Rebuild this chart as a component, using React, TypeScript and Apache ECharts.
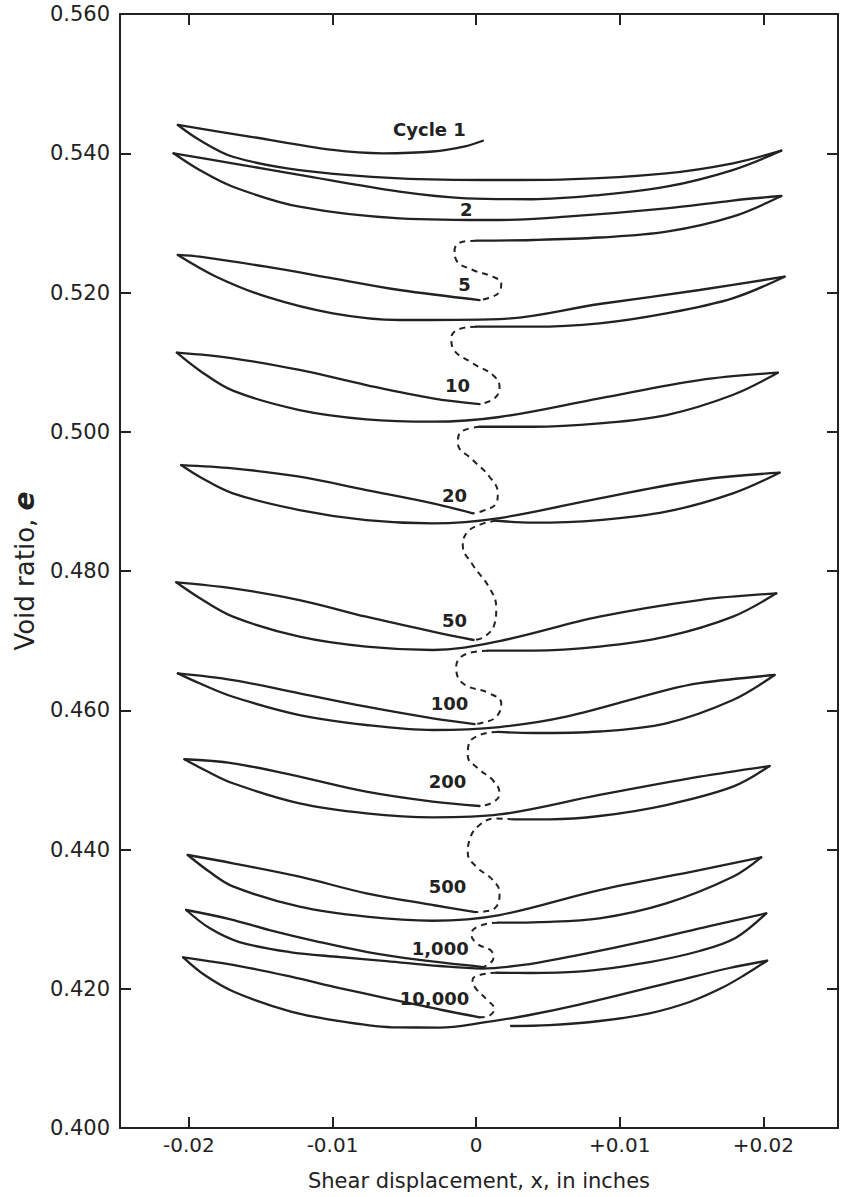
import React, { useEffect, useRef } from "react";
import * as echarts from "echarts";

type Pt = [number, number];

// ---- axes ----
const xMin = -0.0248;
const xMax = 0.0252;
const xTickValues = [-0.02, -0.01, 0, 0.01, 0.02];
const yMin = 0.4;
const yMax = 0.56;
const yInterval = 0.02;

// ---- cycle 1 & 2 (continuous) ----
const c1Out: Pt[] = [[0.00047, 0.5418], [-0.00069, 0.54104], [-0.00302, 0.54025], [-0.0065, 0.53999], [-0.00998, 0.54047], [-0.01578, 0.5424], [-0.02077, 0.54406]];
const c1Lower: Pt[] = [[-0.02077, 0.54406], [-0.01926, 0.5419], [-0.01694, 0.5395], [-0.0123, 0.53759], [-0.00533, 0.5364], [0.00163, 0.53616], [0.00627, 0.53626], [0.01324, 0.53712], [0.01788, 0.53856], [0.02125, 0.54037]];
const c1Return: Pt[] = [[0.02125, 0.54037], [0.01786, 0.53759], [0.01324, 0.53519], [0.00859, 0.534], [0.00393, 0.53339], [-0.00069, 0.53353], [-0.00533, 0.53448], [-0.0123, 0.53688], [-0.01696, 0.53856], [-0.02107, 0.53999]];
const c2Lower: Pt[] = [[-0.02107, 0.53999], [-0.01926, 0.53759], [-0.01694, 0.53519], [-0.0123, 0.53232], [-0.00533, 0.53066], [0.00163, 0.53041], [0.00627, 0.53089], [0.01324, 0.53209], [0.01786, 0.53321], [0.02125, 0.53386]];
const c2Return: Pt[] = [[0.02125, 0.53386], [0.01786, 0.53089], [0.01327, 0.52873], [0.00859, 0.5279], [0.00393, 0.52754], [0.00001, 0.52744]];

// ---- cycle 5 ----
const c5Out: Pt[] = [[0.00024, 0.51892], [-0.00533, 0.52036], [-0.00998, 0.52204], [-0.01462, 0.5237], [-0.01926, 0.52514], [-0.02077, 0.52539]];
const c5Lower: Pt[] = [[-0.02077, 0.52539], [-0.0181, 0.52227], [-0.01462, 0.5194], [-0.00998, 0.51701], [-0.00533, 0.51605], [0.00163, 0.51619], [0.00859, 0.51835], [0.01556, 0.52036], [0.02148, 0.52227]];
const c5Return: Pt[] = [[0.02148, 0.52227], [0.01786, 0.51917], [0.01324, 0.51701], [0.00859, 0.51558], [0.00393, 0.51509], [0.00001, 0.51509]];

// ---- cycle 10 ----
const c10Out: Pt[] = [[0.00024, 0.50398], [-0.00302, 0.5048], [-0.00765, 0.50671], [-0.0123, 0.50887], [-0.01694, 0.51055], [-0.02084, 0.51135]];
const c10Lower: Pt[] = [[-0.02084, 0.51135], [-0.01926, 0.5088], [-0.01694, 0.5059], [-0.0123, 0.50312], [-0.00765, 0.50179], [-0.00302, 0.50144], [0.00163, 0.50212], [0.00859, 0.5048], [0.01556, 0.50743], [0.02101, 0.50848]];
const c10Return: Pt[] = [[0.02101, 0.50848], [0.01786, 0.50528], [0.01326, 0.5024], [0.00859, 0.50121], [0.00393, 0.50072], [0.00024, 0.50072]];

// ---- cycle 20 ----
const c20Out: Pt[] = [[-0.00023, 0.48829], [-0.00302, 0.48972], [-0.00765, 0.49163], [-0.0123, 0.49354], [-0.01694, 0.49475], [-0.02054, 0.49522]];
const c20Lower: Pt[] = [[-0.02054, 0.49522], [-0.01926, 0.49354], [-0.01694, 0.49116], [-0.0123, 0.48876], [-0.00765, 0.48732], [-0.00302, 0.48685], [0.00163, 0.48761], [0.00859, 0.49044], [0.01556, 0.49307], [0.02113, 0.49412]];
const c20Return: Pt[] = [[0.02113, 0.49412], [0.01788, 0.49116], [0.01324, 0.48852], [0.00859, 0.48732], [0.00395, 0.48694], [0.0014, 0.48722]];

// ---- cycle 50 ----
const c50Out: Pt[] = [[-0.00018, 0.47009], [-0.00302, 0.47129], [-0.00765, 0.47343], [-0.0123, 0.47583], [-0.01694, 0.47751], [-0.02088, 0.47838]];
const c50Lower: Pt[] = [[-0.02088, 0.47838], [-0.01926, 0.47612], [-0.01694, 0.47344], [-0.0123, 0.47056], [-0.00765, 0.46913], [-0.00302, 0.46865], [0.00163, 0.46994], [0.00859, 0.47344], [0.01556, 0.47583], [0.0209, 0.47679]];
const c50Return: Pt[] = [[0.0209, 0.47679], [0.01788, 0.47344], [0.01324, 0.47056], [0.00859, 0.46913], [0.00395, 0.46855], [0.00081, 0.46855]];

// ---- cycle 100 ----
const c100Out: Pt[] = [[-0.00011, 0.45802], [-0.00302, 0.45884], [-0.00765, 0.46051], [-0.0123, 0.46243], [-0.01694, 0.46434], [-0.02077, 0.4653]];
const c100Lower: Pt[] = [[-0.02077, 0.4653], [-0.01926, 0.46387], [-0.01694, 0.46194], [-0.0123, 0.45931], [-0.00765, 0.45788], [-0.00302, 0.45716], [0.00163, 0.45759], [0.00627, 0.45907], [0.01324, 0.4629], [0.01556, 0.4639], [0.02078, 0.46506]];
const c100Return: Pt[] = [[0.02078, 0.46506], [0.01788, 0.46147], [0.01324, 0.45812], [0.00859, 0.45695], [0.00395, 0.45673], [0.00149, 0.45688]];

// ---- cycle 200 ----
const c200Out: Pt[] = [[0.00024, 0.44625], [-0.00302, 0.44687], [-0.00765, 0.4483], [-0.0123, 0.45046], [-0.01694, 0.45238], [-0.02031, 0.45296]];
const c200Lower: Pt[] = [[-0.02031, 0.45296], [-0.01891, 0.45142], [-0.01694, 0.44951], [-0.0123, 0.44663], [-0.00765, 0.4452], [-0.00302, 0.44462], [0.00163, 0.44503], [0.00859, 0.44783], [0.01556, 0.45046], [0.02043, 0.45199]];
const c200Return: Pt[] = [[0.02043, 0.45199], [0.01788, 0.44902], [0.01324, 0.44639], [0.00859, 0.44481], [0.00511, 0.44434], [0.0026, 0.44434]];

// ---- cycle 500 ----
const c500Out: Pt[] = [[-0.00004, 0.43102], [-0.00302, 0.43203], [-0.00765, 0.43371], [-0.0123, 0.43609], [-0.01694, 0.43802], [-0.02008, 0.43921]];
const c500Lower: Pt[] = [[-0.02008, 0.43921], [-0.01857, 0.4368], [-0.01694, 0.4347], [-0.0123, 0.43178], [-0.00765, 0.43035], [-0.00302, 0.42977], [0.00163, 0.43059], [0.00859, 0.43418], [0.01556, 0.43705], [0.01985, 0.43888]];
const c500Return: Pt[] = [[0.01985, 0.43888], [0.01788, 0.43609], [0.01324, 0.43227], [0.00859, 0.43012], [0.00442, 0.42958], [0.00151, 0.42949]];

// ---- cycle 1,000 ----
const c1000Out: Pt[] = [[0.00052, 0.42312], [-0.00394, 0.42414], [-0.00756, 0.42527], [-0.0109, 0.42671], [-0.01439, 0.42843], [-0.01717, 0.43001], [-0.02019, 0.43131]];
const c1000Lower: Pt[] = [[-0.02019, 0.43131], [-0.01857, 0.42872], [-0.01648, 0.42671], [-0.01299, 0.42527], [-0.00951, 0.42456], [-0.00624, 0.42398], [-0.00255, 0.42327], [0.00038, 0.42291], [0.00372, 0.42355], [0.0071, 0.42484], [0.01208, 0.427], [0.01625, 0.42901], [0.0202, 0.43083]];
const c1000Return: Pt[] = [[0.0202, 0.43083], [0.01806, 0.42729], [0.01556, 0.42542], [0.01208, 0.42384], [0.0071, 0.42245], [0.00372, 0.42226], [0.00142, 0.4223]];

// ---- cycle 10,000 ----
const c10000Out: Pt[] = [[0.00026, 0.4159], [-0.00255, 0.41702], [-0.00623, 0.41863], [-0.00951, 0.4201], [-0.0129, 0.42173], [-0.01648, 0.42326], [-0.0204, 0.42451]];
const c10000Lower: Pt[] = [[-0.0204, 0.42451], [-0.01891, 0.42197], [-0.01683, 0.41953], [-0.0129, 0.41671], [-0.00951, 0.41536], [-0.00556, 0.41446], [-0.00255, 0.41443], [0.00043, 0.41512], [0.00372, 0.41623], [0.0071, 0.41767], [0.01376, 0.42101], [0.01765, 0.42298], [0.02026, 0.42403]];
const c10000Return: Pt[] = [[0.02026, 0.42403], [0.01869, 0.42197], [0.01709, 0.4201], [0.01486, 0.4181], [0.01207, 0.41647], [0.00859, 0.41537], [0.00511, 0.41479], [0.00243, 0.41465]];

// ---- dashed links (intermediate cycles) ----
const link2to5: Pt[] = [[0.00001, 0.52744], [-0.00093, 0.5273], [-0.0015, 0.5261], [-0.00139, 0.52467], [-0.00023, 0.52323], [0.00116, 0.52227], [0.00175, 0.52132], [0.00163, 0.52011], [0.00081, 0.51917], [0.00024, 0.51892]];
const link5to10: Pt[] = [[0.00001, 0.51509], [-0.00116, 0.51476], [-0.00173, 0.51346], [-0.00162, 0.51203], [-0.00023, 0.50983], [0.00116, 0.50815], [0.00163, 0.50647], [0.00128, 0.5048], [0.00024, 0.50398]];
const link10to20: Pt[] = [[0.00024, 0.50072], [-0.00116, 0.49978], [-0.00127, 0.49834], [-0.00023, 0.49594], [0.00093, 0.49354], [0.00151, 0.49116], [0.0014, 0.48972], [0.00045, 0.48862], [-0.00023, 0.48829]];
const link20to50: Pt[] = [[0.0014, 0.48722], [0.00038, 0.48674], [-0.0006, 0.4856], [-0.00093, 0.48373], [-0.00023, 0.48086], [0.00093, 0.47756], [0.0014, 0.47468], [0.00128, 0.47239], [0.00058, 0.47056], [-0.00018, 0.47009]];
const link50to100: Pt[] = [[0.00081, 0.46855], [-0.00069, 0.46808], [-0.00139, 0.46625], [-0.00093, 0.46387], [0.00093, 0.46243], [0.00175, 0.461], [0.0014, 0.45907], [0.00038, 0.45817], [-0.00011, 0.45802]];
const link100to200: Pt[] = [[0.00149, 0.45688], [0.00024, 0.45644], [-0.00053, 0.45501], [-0.00058, 0.45343], [0.0001, 0.4517], [0.00121, 0.44984], [0.00163, 0.44807], [0.00121, 0.44682], [0.00024, 0.44625]];
const link200to500: Pt[] = [[0.0026, 0.44434], [0.00142, 0.44445], [0.00024, 0.44352], [-0.00046, 0.44136], [-0.00058, 0.43945], [0.00001, 0.43753], [0.00116, 0.43562], [0.00163, 0.43371], [0.0014, 0.43178], [0.00047, 0.43107], [-0.00004, 0.43102]];
const link500to1000: Pt[] = [[0.00151, 0.42949], [0.00024, 0.42902], [-0.00034, 0.42786], [0.0001, 0.42642], [0.001, 0.42556], [0.00121, 0.42441], [0.00052, 0.42312]];
const link1000to10000: Pt[] = [[0.00142, 0.4223], [0.00024, 0.42197], [-0.00025, 0.42125], [-0.00004, 0.4201], [0.00077, 0.41838], [0.00126, 0.41709], [0.00086, 0.41608], [0.00026, 0.4159]];

// ---- cycle labels ----
const cycleLabels = ["Cycle 1", "2", "5", "10", "20", "50", "100", "200", "500", "1,000", "10,000"];
const cycleLabelX = [-0.00325, -0.00069, -0.00081, -0.0013, -0.0015, -0.0015, -0.00185, -0.002, -0.002, -0.0025, -0.0029];
const cycleLabelY = [0.54334, 0.53185, 0.52108, 0.50671, 0.49091, 0.47296, 0.46104, 0.44974, 0.43465, 0.42581, 0.41867];

const solidBranches: Pt[][] = [
  c1Out, c1Lower, c1Return, c2Lower, c2Return,
  c5Out, c5Lower, c5Return,
  c10Out, c10Lower, c10Return,
  c20Out, c20Lower, c20Return,
  c50Out, c50Lower, c50Return,
  c100Out, c100Lower, c100Return,
  c200Out, c200Lower, c200Return,
  c500Out, c500Lower, c500Return,
  c1000Out, c1000Lower, c1000Return,
  c10000Out, c10000Lower, c10000Return,
];
const dashedLinks: Pt[][] = [link2to5, link5to10, link10to20, link20to50, link50to100, link100to200, link200to500, link500to1000, link1000to10000];

export default function App() {
  const ref = useRef<HTMLDivElement>(null);

  useEffect(() => {
    if (!ref.current) return;
    const chart = echarts.init(ref.current, undefined, { renderer: "svg" });
    const ink = "#222222";
    const font = "DejaVu Sans";
    const xFmt = (v: number) => (Math.abs(v) < 1e-9 ? "0" : (v > 0 ? "+" : "") + v.toFixed(2));
    const yFmt = (v: number) => v.toFixed(3);
    const axisLineStyle = { color: ink, width: 2 };

    const xCommon = {
      type: "value" as const,
      min: xMin,
      max: xMax,
      splitLine: { show: false },
      axisLine: { show: true, onZero: false, lineStyle: axisLineStyle },
      axisTick: { show: true, inside: true, length: 11, customValues: xTickValues, lineStyle: axisLineStyle },
    };
    const yCommon = {
      type: "value" as const,
      min: yMin,
      max: yMax,
      interval: yInterval,
      splitLine: { show: false },
      axisLine: { show: true, onZero: false, lineStyle: axisLineStyle },
      axisTick: { show: true, inside: true, length: 11, lineStyle: axisLineStyle },
    };

    const series: any[] = [];
    solidBranches.forEach((d, i) => {
      series.push({
        type: "line",
        name: "loop" + i,
        data: d,
        smooth: 0.35,
        showSymbol: false,
        symbol: "none",
        silent: true,
        lineStyle: { color: ink, width: 2.3, cap: "round" },
      });
    });
    dashedLinks.forEach((d, i) => {
      series.push({
        type: "line",
        name: "link" + i,
        data: d,
        smooth: 0.45,
        showSymbol: false,
        symbol: "none",
        silent: true,
        lineStyle: { color: ink, width: 2, type: [6, 5] },
      });
    });
    series.push({
      type: "scatter",
      name: "labels",
      data: cycleLabels.map((t, i) => [cycleLabelX[i], cycleLabelY[i], t]),
      symbolSize: 1,
      itemStyle: { color: ink, opacity: 0 },
      silent: true,
      z: 5,
      label: {
        show: true,
        position: "inside",
        formatter: (p: any) => p.data[2],
        color: ink,
        opacity: 1,
        textBorderWidth: 0,
        fontSize: 18,
        fontWeight: "bold",
        fontFamily: font,
      },
    });

    chart.setOption({
      animation: false,
      backgroundColor: "#ffffff",
      grid: { left: 120, right: 9, top: 14, bottom: 69, containLabel: false, outerBoundsMode: "none" },
      xAxis: [
        {
          ...xCommon,
          position: "bottom",
          axisLabel: { show: true, customValues: xTickValues, formatter: xFmt, color: ink, fontSize: 20, fontFamily: font, margin: 7 },
          name: "Shear displacement, x, in inches",
          nameLocation: "middle",
          nameGap: 42,
          nameTextStyle: { color: ink, fontSize: 21, fontFamily: font },
        },
        { ...xCommon, position: "top", axisLabel: { show: false } },
      ],
      yAxis: [
        {
          ...yCommon,
          position: "left",
          axisLabel: { show: true, formatter: yFmt, color: ink, fontSize: 21, fontFamily: font, margin: 10 },
          name: "Void ratio, {e|e}",
          nameLocation: "middle",
          nameGap: 80,
          nameTextStyle: {
            color: ink,
            fontSize: 26,
            fontFamily: font,
            rich: { e: { fontSize: 28, fontStyle: "italic", fontWeight: "bold", fontFamily: font, color: ink } },
          },
        },
        { ...yCommon, position: "right", axisLabel: { show: false } },
      ],
      series,
    });

    return () => chart.dispose();
  }, []);

  return (
    <div
      ref={ref}
      style={{ position: "absolute", left: 0, top: 0, width: 847, height: 1197, background: "#fff" }}
    />
  );
}
